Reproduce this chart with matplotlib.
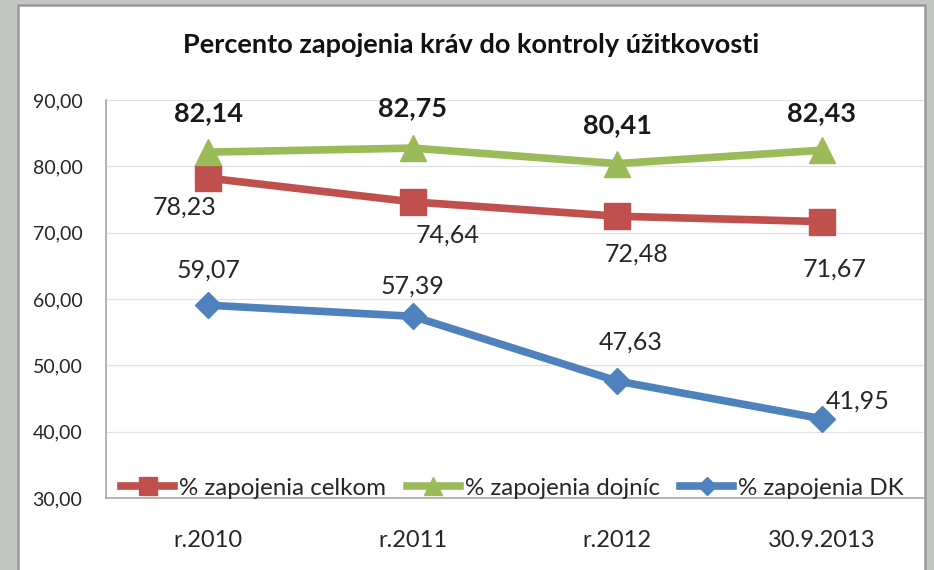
import matplotlib
matplotlib.use("Agg")
import matplotlib.pyplot as plt
from matplotlib.patches import Rectangle

categories = ["r.2010", "r.2011", "r.2012", "30.9.2013"]
celkom = [78.23, 74.64, 72.48, 71.67]
dojnic = [82.14, 82.75, 80.41, 82.43]
dk = [59.07, 57.39, 47.63, 41.95]
yticks = [30, 40, 50, 60, 70, 80, 90]

# label offsets in points (as placed in the original chart)
off_celkom = [(-17, -21), (25, -24), (14, -27), (9, -34)]
off_dojnic = [(0, 28), (0, 29), (0, 28), (0, 27)]
off_dk = [(0, 25), (0, 22), (10, 28), (26, 13)]

FONT = ["Lato", "DejaVu Sans"]
plt.rcParams["font.family"] = FONT

W, H = 934, 570
fig = plt.figure(figsize=(W / 100, H / 100), dpi=100)
fig.patch.set_facecolor("#C3C7C1")

# white chart panel with grey border
panel = Rectangle((18 / W, -0.02), (925 - 18) / W, (565 + 0.02 * H) / H,
                  transform=fig.transFigure, facecolor="white",
                  edgecolor="#9A9A9A", linewidth=1.8, zorder=-5)
fig.patches.append(panel)

ax = fig.add_axes([106 / W, (H - 498) / H, (924 - 106) / W, (498 - 100) / H])
ax.set_zorder(2)
ax.set_facecolor("white")
x = list(range(len(categories)))

red = "#C0504D"
green = "#9BBB59"
blue = "#4F81BD"

ax.plot(x, celkom, color=red, lw=5.5, marker="s", ms=18.5, label="% zapojenia celkom", zorder=4)
ax.plot(x, dojnic, color=green, lw=5.5, marker="^", ms=18.5, label="% zapojenia dojníc", zorder=5)
ax.plot(x, dk, color=blue, lw=5.5, marker="D", ms=13.5, label="% zapojenia DK", zorder=3)

ax.set_xlim(-0.5, len(categories) - 0.5)
ax.set_ylim(30, 90)
ax.set_yticks(yticks)
ax.set_yticklabels([f"{v:.2f}".replace(".", ",") for v in yticks], fontsize=14, color="#262626")
ax.set_xticks(x)
ax.set_xticklabels(categories, fontsize=17, color="#262626")
ax.tick_params(axis="y", length=0, pad=17)
ax.tick_params(axis="x", length=0, pad=23)
ax.grid(axis="y", color="#E3E3E3", lw=0.9)
ax.set_axisbelow(True)
for s in ["top", "right"]:
    ax.spines[s].set_visible(False)
ax.spines["left"].set_color("#A8A8A8")
ax.spines["bottom"].set_color("#A8A8A8")
ax.spines["left"].set_linewidth(1.2)
ax.spines["bottom"].set_linewidth(1.2)

fmt = lambda v: f"{v:.2f}".replace(".", ",")
for i, v in enumerate(dojnic):
    ax.annotate(fmt(v), (i, v), xytext=off_dojnic[i], textcoords="offset points",
                ha="center", va="center", fontsize=19.5, fontweight="bold", color="#1A1A1A")
for i, v in enumerate(celkom):
    ax.annotate(fmt(v), (i, v), xytext=off_celkom[i], textcoords="offset points",
                ha="center", va="center", fontsize=18, color="#262626")
for i, v in enumerate(dk):
    ax.annotate(fmt(v), (i, v), xytext=off_dk[i], textcoords="offset points",
                ha="center", va="center", fontsize=18, color="#262626")

leg = ax.legend(loc="center", bbox_to_anchor=(0.497, 0.025), ncol=3, frameon=False,
                fontsize=17.4, handlelength=2.2, handletextpad=0.2, columnspacing=0.85,
                markerscale=0.7, borderpad=0, borderaxespad=0)
for t in leg.get_texts():
    t.set_color("#262626")

fig.text(471 / W, 1 - 45 / H, "Percento zapojenia kráv do kontroly úžitkovosti",
         ha="center", va="center", fontsize=19.5, fontweight="bold", color="#111111")

fig.savefig("out.png", dpi=100, facecolor=fig.get_facecolor())
